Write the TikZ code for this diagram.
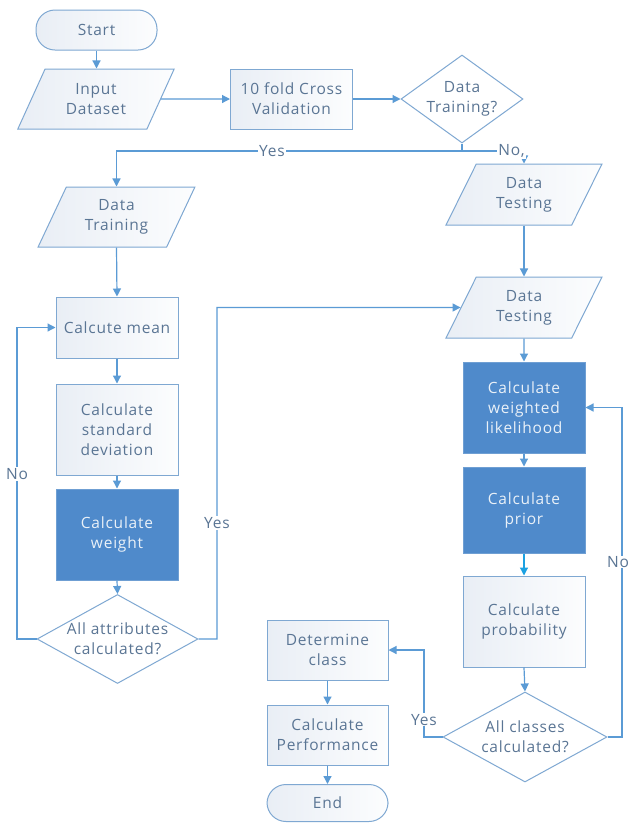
\documentclass[tikz,border=0pt]{standalone}
\usepackage{fontspec}
\setmainfont{Open Sans}[LetterSpace=5]
\usetikzlibrary{shapes.geometric,arrows.meta}
\definecolor{lineblue}{HTML}{5B9BD5}
\definecolor{boxline}{HTML}{7FA8D2}
\definecolor{darkfill}{HTML}{4F8ACB}
\definecolor{darkline}{HTML}{6F9FD3}
\definecolor{txtc}{HTML}{5A7594}
\definecolor{darktxt}{HTML}{EAF1F8}
\definecolor{lightA}{HTML}{E9EEF5}
\definecolor{lightB}{HTML}{FCFDFE}
\definecolor{cyanarrow}{HTML}{1BA1E2}
\begin{document}
\begin{tikzpicture}[x=1pt,y=-1pt,
  font=\fontsize{15.5}{20}\selectfont,
  base/.style={draw=boxline, line width=1pt, text=txtc, align=center, inner sep=2pt},
  proc/.style={base, rectangle, left color=lightA, right color=lightB, minimum width=122pt, minimum height=60pt},
  dark/.style={base, rectangle, fill=darkfill, draw=darkline, text=darktxt, minimum width=122pt, minimum height=91pt},
  io/.style={base, trapezium, trapezium left angle=64, trapezium right angle=116, trapezium stretches=true,
     minimum width=157pt, minimum height=60pt, left color=lightA, right color=lightB},
  term/.style={base, rectangle, rounded corners=19pt, minimum width=121pt, minimum height=40pt, left color=lightA, right color=lightB},
  decision/.style={base, diamond, inner sep=0pt, fill=white},
  txt/.style={text=txtc, align=center, inner sep=0pt},
  conn/.style={draw=lineblue, line width=1.2pt, -{Triangle[length=8pt,width=8pt]}},
  cyanconn/.style={draw=cyanarrow, line width=1.2pt, -{Triangle[length=8pt,width=8pt]}},
  plain/.style={draw=lineblue, line width=1.2pt},
  lbl/.style={fill=white, inner sep=1pt, text=txtc}
]
\useasboundingbox (0,0) rectangle (631,823);
\fill[white] (0,0) rectangle (631,823);

% top row
\node[term] (start) at (96.5,30) {Start};
\node[io] (input) at (96,99) {Input\\Dataset};
\node[proc] (cv) at (291.5,99) {10 fold Cross\\Validation};
\node[decision, minimum width=122pt, minimum height=88pt] (dtq) at (462,99) {};
\node[txt] (dtqt) at (dtq.center) {Data\\Training?};
\coordinate (j) at (462,151);

% left column
\node[io] (dtrain) at (116.5,217) {Data\\Training};
\node[proc, minimum height=61pt] (mean) at (117,327.5) {Calcute mean};
\node[proc, minimum height=91pt] (std) at (117,429.5) {Calculate\\standard\\deviation};
\node[dark] (weight) at (117,534.5) {Calculate\\weight};
\node[decision, minimum width=161pt, minimum height=89pt] (att) at (117.5,639) {};
\node[txt] (attt) at (att.center) {All attributes\\calculated?};

% right column
\node[io, minimum height=61pt] (dtest1) at (524,194.5) {Data\\Testing};
\node[io, minimum height=61pt] (dtest2) at (524,307.5) {Data\\Testing};
\node[dark] (wl) at (524,407.5) {Calculate\\weighted\\likelihood};
\node[dark, minimum height=86pt] (prior) at (524,510) {Calculate\\prior};
\node[proc, minimum height=91pt] (prob) at (524,621.5) {Calculate\\probability};
\node[decision, minimum width=164pt, minimum height=90pt] (acc) at (525,737) {};
\node[txt] (acct) at (acc.center) {All classes\\calculated?};

% bottom
\node[proc, minimum width=121pt] (det) at (327.5,650) {Determine\\class};
\node[proc, minimum width=121pt] (perf) at (327.5,735) {Calculate\\Performance};
\node[term, minimum height=37pt] (end) at (327.5,803) {End};

% connectors
\draw[conn] (start.south) -- (start.south |- input.north);
\draw[conn] (input.east) -- (cv.west);
\draw[conn] (cv.east) -- (dtq.west);
\draw[plain] (dtq.south) -- (j);
\draw[conn] (j) -- node[lbl, pos=0.55] {Yes} (dtrain.north |- j) -- (dtrain.north);
\draw[conn] (j) -- node[lbl, pos=0.8] {No,} (dtest1.north |- j) -- (dtest1.north);

\draw[conn] (dtrain.south) -- (mean.north);
\draw[conn] (mean.south) -- (std.north);
\draw[conn] (std.south) -- (weight.north);
\draw[conn] (weight.south) -- (att.north);
\draw[conn] (att.west) -- (17,639) -- node[lbl, pos=0.53] {No} (17,327.5) -- (mean.west);
\draw[conn] (att.east) -- (217,639) -- node[lbl, pos=0.35] {Yes} (217,307.5) -- (dtest2.west);

\draw[conn] (dtest1.south) -- (dtest2.north);
\draw[conn] (dtest2.south) -- (wl.north);
\draw[conn] (wl.south) -- (prior.north);
\draw[cyanconn] (prior.south) -- (prob.north);
\draw[conn] (prob.south) -- (acc.north);
\draw[conn] (acc.east) -- (622,737) -- node[lbl, pos=0.53, xshift=-4pt, inner sep=0.5pt] {No} (622,407.5) -- (wl.east);
\draw[conn] (acc.west) -- (424,737) -- node[lbl, pos=0.2] {Yes} (424,650) -- (det.east);

\draw[conn] (det.south) -- (perf.north);
\draw[conn] (perf.south) -- (end.north);
\end{tikzpicture}
\end{document}
